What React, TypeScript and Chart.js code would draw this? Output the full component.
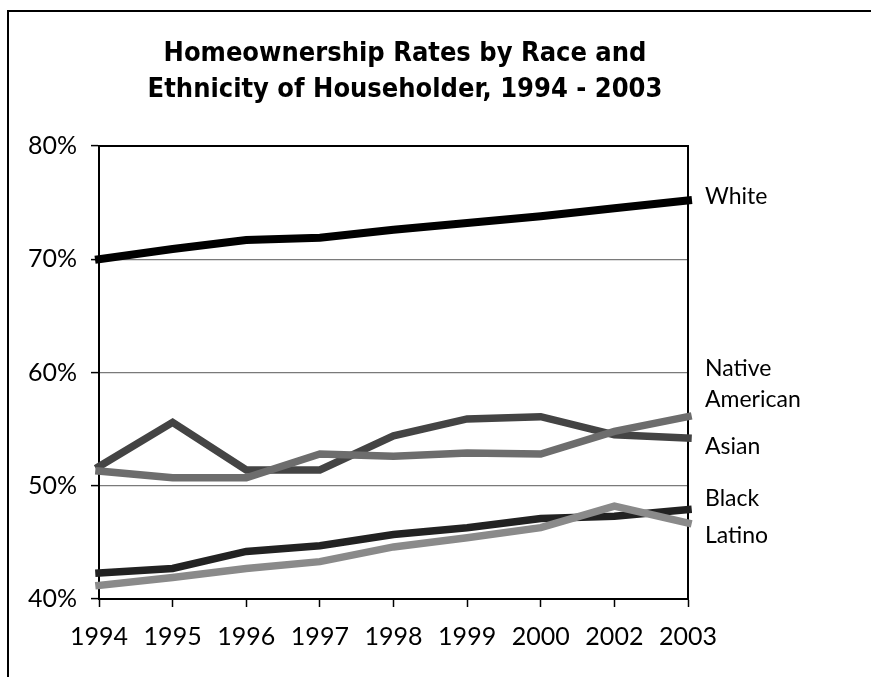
import React, { useEffect, useRef } from "react";
import { Chart, registerables } from "chart.js";

Chart.register(...registerables);

const years = ["1994", "1995", "1996", "1997", "1998", "1999", "2000", "2002", "2003"];
const white = [70.0, 70.9, 71.7, 71.9, 72.6, 73.2, 73.8, 74.5, 75.2];
const nativeAmerican = [51.7, 55.6, 51.4, 51.4, 54.4, 55.9, 56.1, 54.5, 54.2];
const asian = [51.3, 50.7, 50.7, 52.8, 52.6, 52.9, 52.8, 54.8, 56.1];
const black = [42.3, 42.7, 44.2, 44.7, 45.7, 46.3, 47.1, 47.3, 47.9];
const latino = [41.2, 41.9, 42.7, 43.3, 44.6, 45.4, 46.3, 48.2, 46.7];

const titleLines = ["Homeownership Rates by Race and", "Ethnicity of Householder, 1994 - 2003"];
const endLabels = ["White", "Native\nAmerican", "Asian", "Black", "Latino"];
const endLabelValues = [75.5, 59.0, 53.45, 48.85, 45.6];

const AXIS_FONT = "Lato, 'Open Sans', sans-serif";

const framePlugin = {
  id: "frame",
  beforeDatasetsDraw(chart: any) {
    const { ctx, chartArea } = chart;
    ctx.save();
    ctx.strokeStyle = "#000";
    ctx.lineWidth = 2;
    ctx.strokeRect(chartArea.left, chartArea.top, chartArea.right - chartArea.left, chartArea.bottom - chartArea.top);
    ctx.restore();
  },
};

const textPlugin = {
  id: "texts",
  afterDraw(chart: any) {
    const { ctx, chartArea } = chart;
    const yScale = chart.scales.y;
    ctx.save();
    // title
    ctx.fillStyle = "#000";
    ctx.font = "bold 27px 'DejaVu Sans Condensed', 'DejaVu Sans', sans-serif";
    ctx.textAlign = "center";
    ctx.textBaseline = "alphabetic";
    const titleX = 405;
    const baselines = [61, 97];
    titleLines.forEach((t, i) => ctx.fillText(t, titleX, baselines[i]));
    // end labels
    ctx.font = `23px ${AXIS_FONT}`;
    ctx.textAlign = "left";
    ctx.textBaseline = "middle";
    endLabels.forEach((lab, i) => {
      const lines = lab.split("\n");
      const cy = yScale.getPixelForValue(endLabelValues[i]);
      const lh = 31;
      lines.forEach((ln, j) => {
        const y = cy + (j - (lines.length - 1) / 2) * lh;
        ctx.fillText(ln, chartArea.right + 17, y);
      });
    });
    ctx.restore();
  },
};

export default function App() {
  const canvasRef = useRef<HTMLCanvasElement | null>(null);

  useEffect(() => {
    const canvas = canvasRef.current;
    if (!canvas) return;
    const mk = (label: string, data: number[], color: string, width: number) => ({
      label,
      data,
      borderColor: color,
      backgroundColor: color,
      borderWidth: width,
      pointRadius: 0,
      pointHoverRadius: 0,
      tension: 0,
      fill: false,
      borderCapStyle: "square" as const,
      borderJoinStyle: "miter" as const,
      clip: false as any,
    });
    const chart = new Chart(canvas, {
      type: "line",
      data: {
        labels: years,
        datasets: [
          mk("Latino", latino, "#8a8a8a", 7.5),
          mk("Black", black, "#222222", 7.5),
          mk("Asian", asian, "#6d6d6d", 7.5),
          mk("Native American", nativeAmerican, "#444444", 7.5),
          mk("White", white, "#000000", 8),
        ],
      },
      options: {
        animation: false,
        responsive: false,
        events: [],
        layout: { padding: { top: 146, right: 183, left: 0, bottom: 0 } },
        plugins: {
          legend: { display: false },
          title: { display: false },
          tooltip: { enabled: false },
        },
        scales: {
          x: {
            type: "category",
            offset: false,
            grid: {
              drawOnChartArea: false,
              drawTicks: true,
              tickLength: 8,
              tickColor: "#000",
              tickWidth: 1.5,
            },
            border: { color: "#000", width: 2 },
            ticks: {
              color: "#000",
              font: { family: AXIS_FONT, size: 25 },
              padding: 15,
              maxRotation: 0,
              autoSkip: false,
            },
            afterFit(scale: any) {
              scale.height = 78;
            },
          },
          y: {
            min: 40,
            max: 80,
            grid: {
              color: (c: any) => (c.tick && (c.tick.value === 40 || c.tick.value === 80) ? "rgba(0,0,0,0)" : "#7a7a7a"),
              lineWidth: 1.2,
              drawTicks: true,
              tickLength: 8,
              tickColor: "#000",
              tickWidth: 1.5,
            },
            border: { color: "#000", width: 2 },
            ticks: {
              stepSize: 10,
              color: "#000",
              font: { family: AXIS_FONT, size: 25 },
              padding: 14,
              callback: (v: any) => `${v}%`,
            },
            afterFit(scale: any) {
              scale.width = 99;
            },
          },
        },
      },
      plugins: [framePlugin, textPlugin],
    });
    return () => chart.destroy();
  }, []);

  return (
    <div style={{ position: "absolute", left: 0, top: 0, width: 871, height: 677, overflow: "hidden", background: "#fff" }}>
      <div
        style={{
          position: "absolute",
          left: 7,
          top: 10,
          width: 1000,
          height: 1000,
          borderLeft: "2px solid #000",
          borderTop: "2px solid #000",
          boxSizing: "border-box",
        }}
      />
      <canvas
        ref={canvasRef}
        width={871}
        height={677}
        style={{ position: "absolute", left: 0, top: 0, width: 871, height: 677 }}
      />
    </div>
  );
}
